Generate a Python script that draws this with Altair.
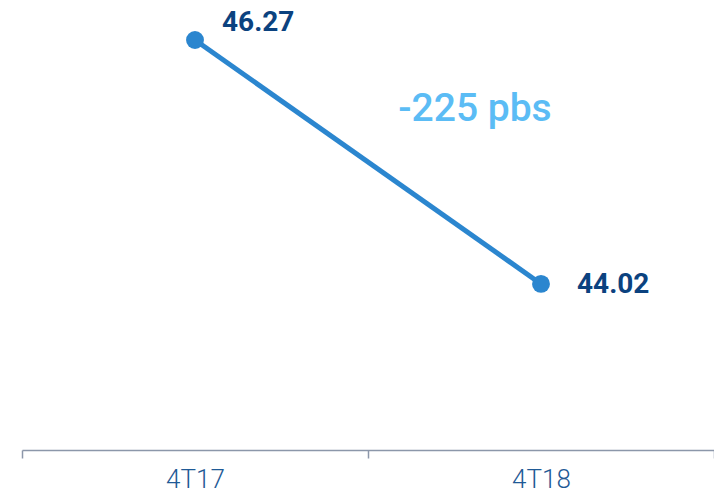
import altair as alt
import pandas as pd

periods = ["4T17", "4T18"]
values = [46.27, 44.02]
labels = ["46.27", "44.02"]
change_label = "-225 pbs"

df = pd.DataFrame({"period": periods, "value": values, "label": labels})

x = alt.X("period:N", sort=periods, title=None,
          scale=alt.Scale(paddingInner=0, paddingOuter=0),
          axis=alt.Axis(labelAngle=0, tickBand="extent", domainColor="#8c97aa",
                        tickColor="#8c97aa", tickSize=8, domainWidth=1.5, tickWidth=1.5,
                        labelFont="Roboto", labelFontWeight=300, labelFontSize=26,
                        labelColor="#1f5a96", labelPadding=8, grid=False))
y = alt.Y("value:Q", scale=alt.Scale(domain=[42.488, 46.473], nice=False, zero=False),
          axis=None)

base = alt.Chart(df).encode(x=x, y=y)

line = base.mark_line(color="#2b86cf", strokeWidth=5)
points = base.mark_circle(color="#2b86cf", size=320, opacity=1)

lab1 = base.transform_filter(alt.datum.period == "4T17").mark_text(
    align="left", baseline="middle", dx=27, dy=-17, font="Roboto", fontWeight="bold",
    fontSize=28, color="#0b427f").encode(text="label:N")
lab2 = base.transform_filter(alt.datum.period == "4T18").mark_text(
    align="left", baseline="middle", dx=36, dy=1, font="Roboto", fontWeight="bold",
    fontSize=28, color="#0b427f").encode(text="label:N")

annot = alt.Chart(pd.DataFrame({"t": [change_label]})).mark_text(
    align="center", baseline="middle", font="Roboto", fontWeight=500, fontSize=39,
    color="#5bbcf5", dx=-66).encode(
    x=alt.datum("4T18"), y=alt.datum(45.63), text="t:N")

chart = alt.layer(line, points, lab1, lab2, annot).properties(
    width=692, height=432,
    background="white",
    autosize=alt.AutoSizeParams(type="none"),
    padding={"left": 14, "top": 10, "right": 0, "bottom": 44},
).configure_view(strokeOpacity=0, strokeWidth=0)

chart.save("out.html", embed_options={"renderer": "svg", "actions": False})
